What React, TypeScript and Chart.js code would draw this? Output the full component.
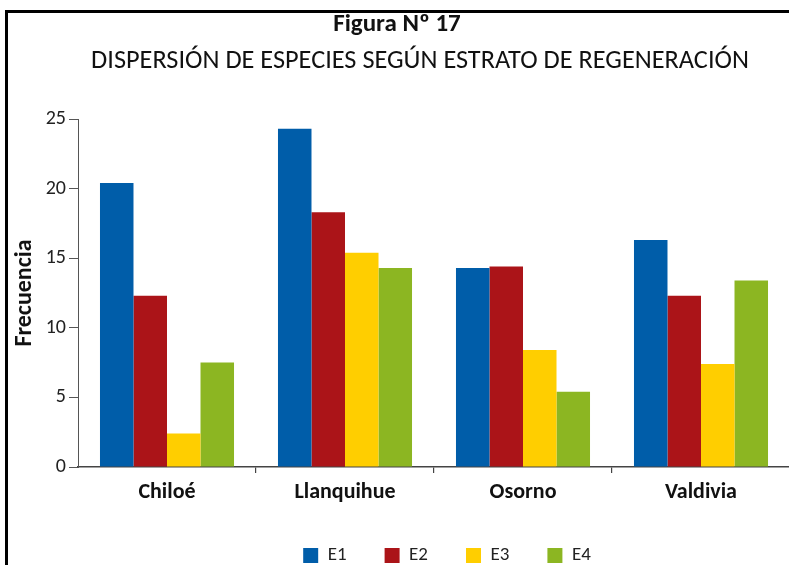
import React, { useEffect, useRef } from "react";
import { Chart, registerables } from "chart.js";

Chart.register(...registerables);

const categories = ["Chiloé", "Llanquihue", "Osorno", "Valdivia"];
const seriesNames = ["E1", "E2", "E3", "E4"];
const e1Values = [20.4, 24.3, 14.3, 16.3];
const e2Values = [12.3, 18.3, 14.4, 12.3];
const e3Values = [2.4, 15.4, 8.4, 7.4];
const e4Values = [7.5, 14.3, 5.4, 13.4];
const seriesColors = ["#005DA9", "#AB1418", "#FFCE00", "#8CB622"];
const yTickValues = [0, 5, 10, 15, 20, 25];
const figureTitle = "Figura Nº 17";
const figureSubtitle = "DISPERSIÓN DE ESPECIES SEGÚN ESTRATO DE REGENERACIÓN";
const yAxisTitle = "Frecuencia";

const FONT = "Carlito, Lato, 'Open Sans', sans-serif";

const titlePlugin = {
  id: "figureTitles",
  afterLayout(chart: any) {
    const lg = chart.legend;
    if (lg) {
      lg.left += 13;
      lg.right += 13;
    }
  },
  afterDraw(chart: any) {
    const ctx = chart.ctx;
    ctx.save();
    ctx.fillStyle = "#111";
    ctx.textAlign = "center";
    ctx.textBaseline = "middle";
    ctx.font = `bold 25px ${FONT}`;
    ctx.fillText(figureTitle, 397, 25);
    ctx.font = `26.3px ${FONT}`;
    ctx.fillText(figureSubtitle, 420, 61);
    ctx.restore();
  },
};

export default function App() {
  const canvasRef = useRef<HTMLCanvasElement | null>(null);

  useEffect(() => {
    if (!canvasRef.current) return;
    const allValues = [e1Values, e2Values, e3Values, e4Values];
    const chart = new Chart(canvasRef.current, {
      type: "bar",
      data: {
        labels: categories,
        datasets: seriesNames.map((name, i) => ({
          label: name,
          data: allValues[i],
          backgroundColor: seriesColors[i],
          borderWidth: 0,
          categoryPercentage: 0.753,
          barPercentage: 1,
        })),
      },
      options: {
        responsive: false,
        animation: false,
        devicePixelRatio: 1,
        layout: { padding: { top: 119, right: 10, left: 0, bottom: 0 } },
        plugins: {
          legend: {
            position: "bottom",
            fullSize: false,
            labels: {
              boxWidth: 15,
              boxHeight: 15,
              padding: 38,
              color: "#222",
              font: { family: FONT, size: 19 },
            },
          },
          title: { display: false },
          tooltip: { enabled: false },
        },
        scales: {
          x: {
            afterFit: (s: any) => {
              s.height = 41;
            },
            grid: {
              offset: true,
              drawOnChartArea: false,
              drawTicks: true,
              tickLength: 6,
              color: (c: any) => (c.index === 0 ? "rgba(0,0,0,0)" : "#444"),
              lineWidth: 1.2,
            },
            border: { color: "#444", width: 1.5 },
            ticks: {
              color: "#111",
              padding: 6,
              font: { family: FONT, size: 22, weight: "bold" },
            },
          },
          y: {
            min: 0,
            max: 25,
            afterBuildTicks: (s: any) => {
              s.ticks = yTickValues.map((v) => ({ value: v }));
            },
            afterFit: (s: any) => {
              s.width = 78;
            },
            grid: {
              drawOnChartArea: false,
              drawTicks: true,
              tickLength: 9,
              color: "#555",
            },
            border: { color: "#555", width: 1 },
            ticks: {
              color: "#222",
              padding: 3,
              font: { family: FONT, size: 20 },
            },
            title: {
              display: true,
              text: yAxisTitle,
              color: "#111",
              padding: { top: 11, bottom: 0 },
              font: { family: FONT, size: 24, weight: "bold" },
            },
          },
        },
      },
      plugins: [titlePlugin],
    } as any);
    return () => chart.destroy();
  }, []);

  return (
    <div
      style={{
        position: "fixed",
        left: 0,
        top: 0,
        width: 789,
        height: 565,
        overflow: "hidden",
        background: "#fff",
      }}
    >
      <div
        style={{
          position: "absolute",
          left: 5,
          top: 10,
          width: 1000,
          height: 1000,
          border: "3px solid #000",
        }}
      />
      <canvas
        ref={canvasRef}
        width={800}
        height={575}
        style={{ position: "absolute", left: 0, top: 0, width: 800, height: 575 }}
      />
    </div>
  );
}
